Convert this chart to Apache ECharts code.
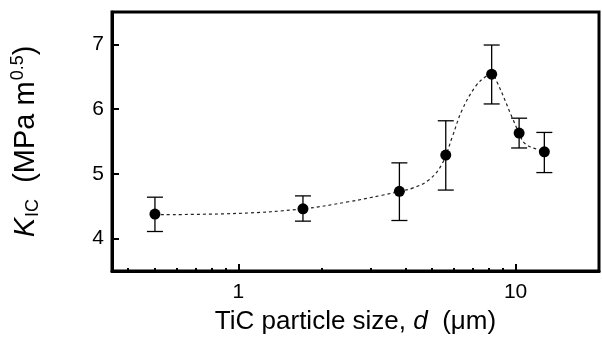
<!DOCTYPE html>
<html>
<head>
<meta charset="utf-8">
<script src="https://cdn.jsdelivr.net/npm/echarts@6/dist/echarts.min.js"></script>
<style>
  html, body { margin: 0; padding: 0; background: #fff; }
  #chart { width: 602px; height: 340px; }
</style>
</head>
<body>
<div id="chart"></div>
<script>
const sizeUm = [0.5, 1.71, 3.81, 5.6, 8.2, 10.3, 12.7]
const kic = [4.38, 4.46, 4.73, 5.29, 6.54, 5.63, 5.34]
const kicLow = [4.11, 4.27, 4.28, 4.75, 6.08, 5.40, 5.02]
const kicHigh = [4.64, 4.66, 5.17, 5.82, 6.99, 5.86, 5.64]

// dotted guide curve
const fitX = [0.5, 1.0, 1.71, 2.5, 3.3, 3.81, 4.25, 4.88, 5.44, 5.91, 6.42, 7.17, 7.79, 8.2, 8.57, 9.7, 10.3, 10.8, 12.1, 12.7]
const fitY = [4.37, 4.39, 4.46, 4.57, 4.67, 4.73, 4.78, 4.91, 5.16, 5.57, 5.99, 6.35, 6.5, 6.54, 6.42, 5.88, 5.63, 5.47, 5.37, 5.34]

// axis ticks
const xRange = [0.35, 20]
const xMajor = [1, 10]
const xMinor = [0.4, 0.5, 0.6, 0.7, 0.8, 0.9, 2, 3, 4, 5, 6, 7, 8, 9]
const yRange = [3.5, 7.5]
const yTicks = [4, 5, 6, 7]

const lg = (v) => Math.log10(v)
const font = "'Liberation Sans', Arial, sans-serif"

const chart = echarts.init(document.getElementById("chart"))

const baseX = {
  type: "value",
  min: lg(xRange[0]),
  max: lg(xRange[1]),
  splitLine: { show: false },
  gridIndex: 0,
  position: "bottom",
}

chart.setOption({
  animation: false,
  grid: {
    left: 112,
    right: 3,
    top: 12,
    bottom: 69,
    show: true,
    borderColor: "#000",
    borderWidth: 3,
  },
  xAxis: [
    {
      ...baseX,
      name: "TiC particle size, {i|d}  (\u03bcm)",
      nameLocation: "middle",
      nameGap: 38,
      nameTextStyle: {
        fontFamily: font,
        fontSize: 26,
        color: "#000",
        rich: { i: { fontFamily: font, fontSize: 26, fontStyle: "italic", color: "#000" } },
      },
      axisLine: { onZero: false, lineStyle: { color: "#000", width: 3 } },
      axisTick: {
        inside: true,
        length: 7,
        lineStyle: { color: "#000", width: 2 },
        customValues: xMajor.map(lg),
      },
      axisLabel: {
        customValues: xMajor.map(lg),
        formatter: (v) => String(Math.round(Math.pow(10, v))),
        fontFamily: font,
        fontSize: 21,
        color: "#000",
        margin: 11,
      },
    },
    {
      ...baseX,
      axisLine: { show: false, onZero: false },
      axisLabel: { show: false },
      axisTick: {
        inside: true,
        length: 3,
        lineStyle: { color: "#000", width: 2 },
        customValues: xMinor.map(lg),
      },
    },
  ],
  yAxis: {
    type: "value",
    min: yRange[0],
    max: yRange[1],
    splitLine: { show: false },
    name: "{k|K}{sub|IC}  (MPa m{sup|0.5})",
    nameLocation: "middle",
    nameGap: 70,
    nameTextStyle: {
      fontFamily: font,
      fontSize: 29,
      color: "#000",
      rich: {
        k: { fontFamily: font, fontSize: 29, fontStyle: "italic", color: "#000" },
        sub: { fontFamily: font, fontSize: 18, color: "#000", verticalAlign: "bottom", padding: [13, 0, 0, 1] },
        sup: { fontFamily: font, fontSize: 18, color: "#000", verticalAlign: "top", padding: [0, 0, 15, 1] },
      },
    },
    axisLine: { onZero: false, lineStyle: { color: "#000", width: 3 } },
    axisTick: {
      inside: true,
      length: 7,
      lineStyle: { color: "#000", width: 2 },
      customValues: yTicks,
    },
    axisLabel: {
      customValues: yTicks,
      fontFamily: font,
      fontSize: 21,
      color: "#000",
      margin: 8,
    },
  },
  series: [
    {
      name: "fit",
      type: "line",
      data: fitX.map((x, i) => [lg(x), fitY[i]]),
      smooth: 0.4,
      symbol: "none",
      lineStyle: { color: "#222", width: 1.2, type: [3, 3] },
      z: 1,
    },
    {
      name: "error",
      type: "custom",
      data: sizeUm.map((x, i) => [lg(x), kicLow[i], kicHigh[i]]),
      renderItem: (params, api) => {
        const lo = api.coord([api.value(0), api.value(1)])
        const hi = api.coord([api.value(0), api.value(2)])
        const w = 8
        const style = { stroke: "#000", lineWidth: 1.3 }
        return {
          type: "group",
          children: [
            { type: "line", shape: { x1: lo[0], y1: lo[1], x2: hi[0], y2: hi[1] }, style },
            { type: "line", shape: { x1: lo[0] - w, y1: lo[1], x2: lo[0] + w, y2: lo[1] }, style },
            { type: "line", shape: { x1: hi[0] - w, y1: hi[1], x2: hi[0] + w, y2: hi[1] }, style },
          ],
        }
      },
      z: 2,
    },
    {
      name: "KIC",
      type: "scatter",
      data: sizeUm.map((x, i) => [lg(x), kic[i]]),
      symbol: "circle",
      symbolSize: 11,
      itemStyle: { color: "#000", opacity: 1 },
      z: 3,
    },
  ],
})
</script>
</body>
</html>
